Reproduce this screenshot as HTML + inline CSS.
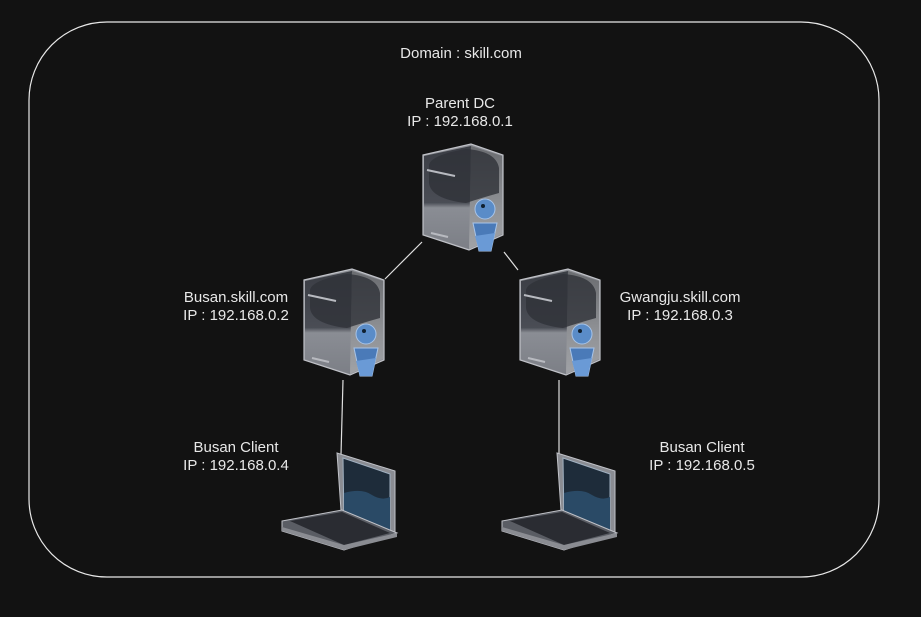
<!DOCTYPE html>
<html><head><style>
body{margin:0;background:#121212;}
svg{display:block;font-family:"Liberation Sans",sans-serif;}
</style></head><body>
<svg width="921" height="617" viewBox="0 0 921 617">
<defs>
<linearGradient id="lf" x1="0" y1="0" x2="0" y2="1"><stop offset="0" stop-color="#3a3d44"/><stop offset="0.55" stop-color="#4a4d55"/><stop offset="0.6" stop-color="#8a8d94"/><stop offset="1" stop-color="#7c7f86"/></linearGradient>
<linearGradient id="rf" x1="0" y1="0" x2="0" y2="1"><stop offset="0" stop-color="#6a6c70"/><stop offset="0.6" stop-color="#909296"/><stop offset="1" stop-color="#a0a2a6"/></linearGradient>
<g id="srv">
<polygon points="2,12 50,1 82,12 82,92 48,107 2,92" fill="#8a8c92" stroke="#c0c2c8" stroke-width="1.2"/>
<polygon points="3,13 50,3 48,106 3,91" fill="url(#lf)"/>
<polygon points="50,3 81,13 81,91 48,106" fill="url(#rf)"/>
<path d="M8,22 Q10,12 45,6 Q75,8 78,25 L78,50 Q60,55 45,60 Q10,56 8,40 Z" fill="#2f3238" opacity="0.8"/>
<line x1="6" y1="27" x2="34" y2="33" stroke="#b8bac0" stroke-width="2"/>
<line x1="10" y1="90" x2="27" y2="94" stroke="#b8bac0" stroke-width="2"/>
<polygon points="52,80 76,80 70,108 58,108" fill="#4a7ab8" stroke="#a8c4e8" stroke-width="1"/>
<polygon points="54,93 74,90 70,108 58,108" fill="#6a9ad6"/>
<circle cx="64" cy="66" r="10" fill="#5a8cc8" stroke="#a8c4e8" stroke-width="1"/>
<circle cx="62" cy="63" r="2" fill="#102030"/>
</g>
<g id="lap">
<polygon points="55,0 113,18 113,82 60,72" fill="#8a8c92" stroke="#c0c2c8" stroke-width="1"/>
<polygon points="61,5 108,21 108,77 62,69" fill="#1e2c3a" stroke="#a0b0c0" stroke-width="1"/>
<path d="M62,40 Q80,35 90,42 Q100,48 108,44 L108,77 L62,69 Z" fill="#2a4a66"/>
<polygon points="0,68 60,57 115,80 62,97 0,78" fill="#5a5d64" stroke="#c0c2c8" stroke-width="1"/>
<polygon points="8,68 60,59 108,80 62,92" fill="#2a2c32"/>
<polygon points="0,74 62,92 115,80 115,84 62,97 0,78" fill="#8a8c92"/>
</g>
</defs>
<rect x="29" y="22" width="850" height="555" rx="78" fill="none" stroke="#e8e8e8" stroke-width="1.2"/>
<g stroke="#e0e0e0" stroke-width="1.2">
<line x1="385" y1="279" x2="422" y2="242"/>
<line x1="504" y1="252" x2="518" y2="270"/>
<line x1="343" y1="380" x2="341" y2="455"/>
<line x1="559" y1="380" x2="559" y2="455"/>
</g>
<use href="#srv" x="421" y="143"/>
<use href="#srv" x="302" y="268"/>
<use href="#srv" x="518" y="268"/>
<use href="#lap" x="282" y="453"/>
<use href="#lap" x="502" y="453"/>
<g fill="#e8e8e8" font-size="15" text-anchor="middle">
<text x="461" y="58">Domain : skill.com</text>
<text x="460" y="108">Parent DC</text>
<text x="460" y="126">IP : 192.168.0.1</text>
<text x="236" y="302">Busan.skill.com</text>
<text x="236" y="320">IP : 192.168.0.2</text>
<text x="680" y="302">Gwangju.skill.com</text>
<text x="680" y="320">IP : 192.168.0.3</text>
<text x="236" y="452">Busan Client</text>
<text x="236" y="470">IP : 192.168.0.4</text>
<text x="702" y="452">Busan Client</text>
<text x="702" y="470">IP : 192.168.0.5</text>
</g>
</svg>
</body></html>
